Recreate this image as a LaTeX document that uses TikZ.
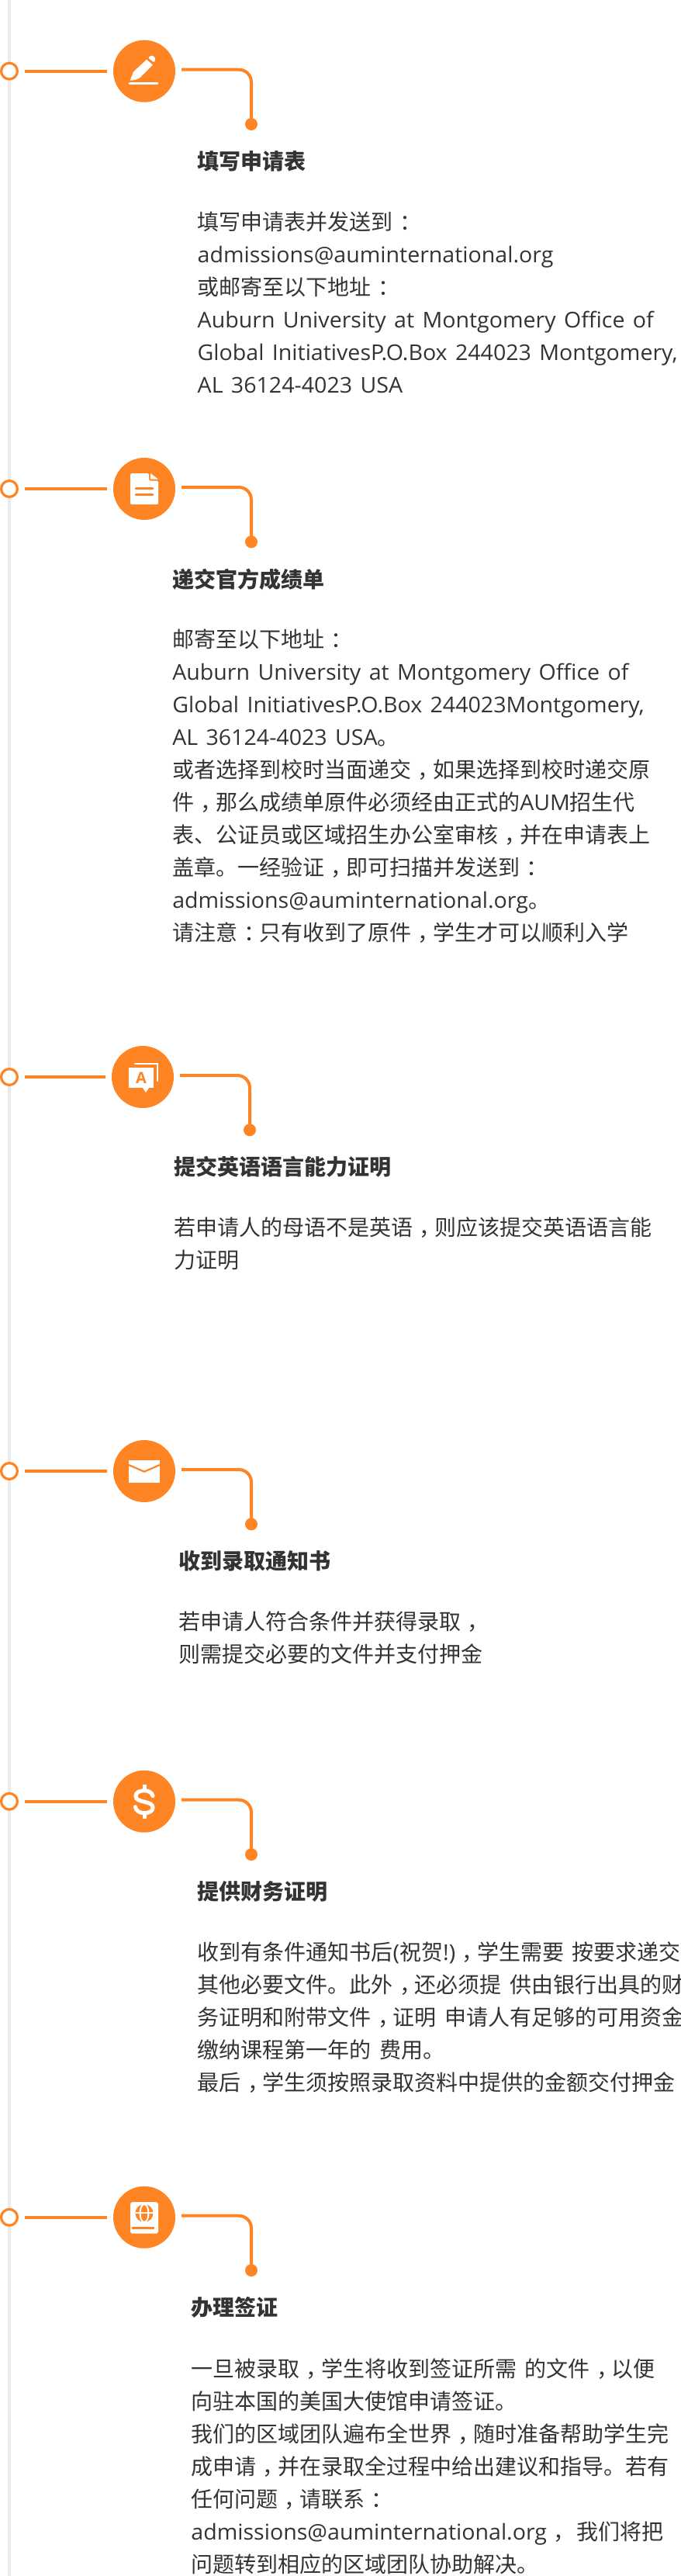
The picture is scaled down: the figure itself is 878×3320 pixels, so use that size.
\documentclass[tikz,border=0pt]{standalone}
\usepackage{fontspec}
\setmainfont{Open Sans}
\newfontfamily\cjk{Noto Sans CJK SC}
\newfontfamily\latinbody{Open Sans}[FakeStretch=1.02,WordSpace=1.4]
\definecolor{brand}{HTML}{FF8524}
\definecolor{rail}{HTML}{EBEBEB}
\definecolor{ink}{HTML}{333333}
\newcommand{\Z}[1]{{\cjk #1}}
\newcommand{\cm}{\hbox to 1em{\kern.3em ，\hss}}
\newcommand{\cl}{\hbox to 1em{\kern.3em ：\hss}}
\newcommand{\bodyfont}{\fontsize{28pt}{42pt}\selectfont\latinbody}
\newcommand{\titlefont}{\fontsize{28pt}{42pt}\selectfont\cjk\bfseries}
\newcommand{\fl}{\rule{0pt}{31.6pt}}
\tikzset{
  badge/.style={circle,fill=brand,minimum size=80pt,inner sep=0pt,outer sep=0pt},
  ring/.style={circle,draw=brand,fill=white,line width=3.2pt,minimum size=20.8pt,inner sep=0pt,outer sep=0pt},
  enddot/.style={circle,fill=brand,minimum size=16pt,inner sep=0pt,outer sep=0pt},
  link/.style={draw=brand,line width=4pt},
  bodytext/.style={anchor=north west,inner sep=0pt,outer sep=0pt,align=left,font=\bodyfont,text=ink},
  titletext/.style={anchor=west,inner sep=0pt,outer sep=0pt,font=\titlefont,text=ink},
  iconcut/.style={draw=brand,line cap=round},
}
% #1 id, #2 badge x, #3 badge y
\newcommand{\stepnodes}[3]{%
  \node[ring] (r#1) at (12,#3) {};
  \node[badge] (b#1) at (#2,#3) {};
  \path (#2,#3) ++(138,68.3) node[enddot] (d#1) {};
  \draw[link,shorten <=9.6pt,shorten >=8pt] (r#1.east) -- (b#1.west);
  \draw[link,rounded corners=16pt] ([xshift=8pt,yshift=2pt]b#1.east) -| (d#1.center);
}
\begin{document}
\begin{tikzpicture}[x=1pt,y=-1pt]
\useasboundingbox (0,0) rectangle (878,3320);
\fill[white] (0,0) rectangle (878,3320);
\coordinate (railtop) at (12,0);
\coordinate (railend) at (12,3320);
\draw[rail,line width=4pt] (railtop) -- (railend);

\stepnodes{1}{186}{91.7}
\stepnodes{2}{186}{630}
\stepnodes{3}{184}{1388}
\stepnodes{4}{186}{1896}
\stepnodes{5}{186}{2321.7}
\stepnodes{6}{186}{2857.7}

% pencil
\begin{scope}[shift={(186,91.7)}]
  \fill[white,line join=round] (-18.3,12) -- (-14,1) -- (3,-15) -- (11,-8) -- (-5,8) .. controls (-9,11) and (-14,12) .. (-18.3,12) -- cycle;
  \fill[white,rounded corners=1.5pt] (5,-17) -- (8,-20) -- (11.5,-20) -- (14.5,-16.5) -- (13,-11) -- cycle;
  \draw[white,line width=2.6pt,line cap=round] (-19,15.7) -- (17,15.7);
\end{scope}
% document
\begin{scope}[shift={(186,630)}]
  \fill[white,rounded corners=1.5pt] (-18,-20) -- (6,-20) -- (6,-10.5) -- (18,-10.5) -- (18,20) -- (-18,20) -- cycle;
  \fill[white] (8,-20) -- (18,-12.3) -- (8,-12.3) -- cycle;
  \draw[iconcut,line width=2.6pt] (-11,-0.7) -- (11,-0.7);
  \draw[iconcut,line width=2.6pt] (-11,7.3) -- (11,7.3);
\end{scope}
% language
\begin{scope}[shift={(184,1388)}]
  \fill[white] (-18,-12) rectangle (14,14);
  \fill[white] (0,14) -- (8,14) -- (4,20) -- cycle;
  \draw[white,line width=2.2pt,line cap=round] (-10,-17) -- (19,-17) -- (19,5);
  \node[text=brand,inner sep=0pt,font=\fontsize{20pt}{20pt}\selectfont\bfseries] (langA) at (-2,1.5) {A};
\end{scope}
% envelope
\begin{scope}[shift={(186,1896)}]
  \fill[white] (-20,-14) rectangle (20,15.3);
  \draw[draw=brand,line width=2.2pt] (-20,-8) -- (0,0.7) -- (20,-8);
\end{scope}
% dollar
\begin{scope}[shift={(186,2321.7)}]
  \draw[white,line width=5pt,line cap=round] (11,-7) .. controls (10,-12) and (5,-14) .. (0,-14) .. controls (-7,-14) and (-11,-11) .. (-11,-7) .. controls (-11,-2) and (-6,-1) .. (0,0.5) .. controls (6,2) and (11,3) .. (11,8) .. controls (11,12) and (7,15) .. (0,15) .. controls (-6,15) and (-11,12) .. (-11.5,7);
  \draw[white,line width=5pt] (0,-22) -- (0,-14);
  \draw[white,line width=5pt] (0,15) -- (0,22.5);
\end{scope}
% passport
\begin{scope}[shift={(186,2857.7)}]
  \fill[white,rounded corners=3pt] (-18,-19.7) rectangle (18,21);
  \draw[draw=brand,line width=3pt] (-16,13.3) -- (13,13.3);
  \fill[brand] (0,-5.3) circle[radius=11.5pt];
  \draw[white,line width=2pt] (0,-5.3) ellipse[x radius=5.5pt,y radius=11.5pt];
  \draw[white,line width=2pt] (-11.5,-5.3) -- (11.5,-5.3);
\end{scope}

\node[titletext] (t1) at (254.7,208) {填写申请表};
\node[bodytext] (p1) at (254.7,265) {\fl\Z{填写申请表并发送到\cl{}}\\
admissions@auminternational.org\\
\Z{或邮寄至以下地址\cl{}}\\
Auburn University at Montgomery Office of\\
Global InitiativesP.O.Box 244023 Montgomery,\\
AL 36124-4023 USA};

\node[titletext] (t2) at (222.3,746.6) {递交官方成绩单};
\node[bodytext] (p2) at (222.3,803) {\fl\Z{邮寄至以下地址\cl{}}\\
Auburn University at Montgomery Office of\\
Global InitiativesP.O.Box 244023Montgomery,\\
AL 36124-4023 USA\Z{。}\\
\Z{或者选择到校时当面递交\cm{}如果选择到校时递交原}\\
\Z{件\cm{}那么成绩单原件必须经由正式的}AUM\Z{招生代}\\
\Z{表、公证员或区域招生办公室审核\cm{}并在申请表上}\\
\Z{盖章。一经验证\cm{}即可扫描并发送到\cl{}}\\
admissions@auminternational.org\Z{。}\\
\Z{请注意\cl{}只有收到了原件\cm{}学生才可以顺利入学}};

\node[titletext] (t3) at (224,1504) {提交英语语言能力证明};
\node[bodytext] (p3) at (224,1561) {\fl\Z{若申请人的母语不是英语\cm{}则应该提交英语语言能}\\
\Z{力证明}};

\node[titletext] (t4) at (230,2011.7) {收到录取通知书};
\node[bodytext] (p4) at (230,2068.7) {\fl\Z{若申请人符合条件并获得录取\cm{}}\\
\Z{则需提交必要的文件并支付押金}};

\node[titletext] (t5) at (254.7,2438) {提供财务证明};
\node[bodytext] (p5) at (254.7,2495) {\fl\Z{收到有条件通知书后}(\Z{祝贺}!)\Z{\cm{}学生需要} \Z{按要求递交}\\
\Z{其他必要文件。此外\cm{}还必须提} \Z{供由银行出具的财}\\
\Z{务证明和附带文件\cm{}证明} \Z{申请人有足够的可用资金}\\
\Z{缴纳课程第一年的} \Z{费用。}\\
\Z{最后\cm{}学生须按照录取资料中提供的金额交付押金}};

\node[titletext] (t6) at (246.4,2974) {办理签证};
\node[bodytext] (p6) at (246.4,3032) {\fl\Z{一旦被录取\cm{}学生将收到签证所需} \Z{的文件\cm{}以便}\\
\Z{向驻本国的美国大使馆申请签证。}\\
\Z{我们的区域团队遍布全世界\cm{}随时准备帮助学生完}\\
\Z{成申请\cm{}并在录取全过程中给出建议和指导。若有}\\
\Z{任何问题\cm{}请联系\cl{}}\\
admissions@auminternational.org\Z{\cm{}} \Z{我们将把}\\
\Z{问题转到相应的区域团队协助解决。}};
\end{tikzpicture}
\end{document}
